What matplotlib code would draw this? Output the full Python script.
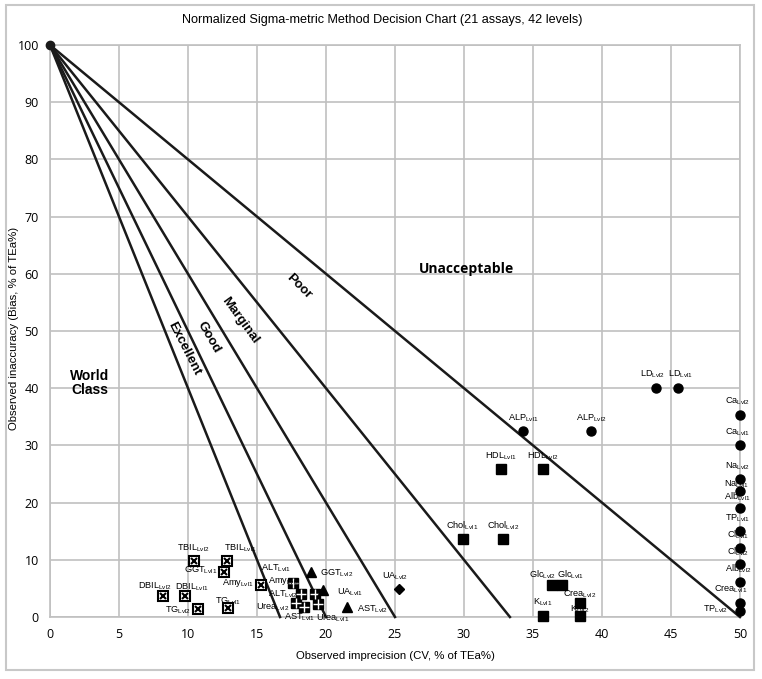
import matplotlib
matplotlib.use('Agg')
import matplotlib.pyplot as plt
from matplotlib.patches import Rectangle

plt.rcParams['font.family'] = ['Liberation Sans', 'DejaVu Sans']
plt.rcParams['mathtext.default'] = 'regular'

# x-intercepts of the decision lines (all start at 0, 100)
line_ends = [16.67, 20, 25, 33.33, 50]

zone_names = ['Excellent', 'Good', 'Marginal', 'Poor']
zone_x = [9.7, 11.5, 13.8, 18.0]
zone_y = [47.0, 48.9, 51.8, 57.7]
zone_rot = [-63, -60, -54, -45]

# crossed squares
cross_names = ['TBIL', 'TBIL', 'GGT', 'DBIL', 'DBIL', 'TG', 'TG', 'Amy']
cross_lvls = [2, 1, 1, 2, 1, 2, 1, 1]
cross_x = [10.4, 12.8, 12.6, 8.2, 9.8, 10.7, 12.9, 15.3]
cross_y = [9.8, 9.8, 7.9, 3.6, 3.6, 1.4, 1.5, 5.6]

# divided squares
grid_names = ['Amy', 'ALT', 'AST', 'Urea', 'AST', 'Urea']
grid_lvls = [2, 2, 2, 2, 1, 1]
grid_x = [17.6, 18.2, 19.2, 17.8, 18.4, 19.4]
grid_y = [5.9, 4.0, 4.0, 2.4, 1.7, 2.3]

tri_names = ['ALT', 'GGT', 'UA']
tri_lvls = [1, 2, 1]
tri_x = [18.9, 19.8, 21.5]
tri_y = [7.9, 4.8, 1.7]

dia_names = ['UA']
dia_lvls = [2]
dia_x = [25.3]
dia_y = [4.9]

sq_names = ['Chol', 'Chol', 'HDL', 'HDL', 'Glc', 'Glc', 'K', 'K', 'Crea']
sq_lvls = [1, 2, 1, 2, 2, 1, 1, 2, 2]
sq_x = [29.9, 32.8, 32.7, 35.7, 36.4, 37.1, 35.7, 38.4, 38.4]
sq_y = [13.6, 13.6, 25.9, 25.9, 5.6, 5.6, 0.2, 0.2, 2.5]

circ_names = ['ALP', 'ALP', 'LD', 'LD', 'Ca', 'Ca', 'Na', 'Na', 'Alb', 'TP',
              'Cl', 'Cl', 'Alb', 'Crea', 'TP']
circ_lvls = [1, 2, 2, 1, 2, 1, 2, 1, 1, 1, 1, 2, 2, 1, 2]
circ_x = [34.3, 39.2, 43.9, 45.5, 50, 50, 50, 50, 50, 50, 50, 50, 50, 50, 50]
circ_y = [32.5, 32.5, 40.0, 40.0, 35.4, 30.0, 24.1, 22.0, 19.1, 15.0,
          12.1, 9.2, 6.2, 2.5, 1.0]

# label offsets in pixels (dx, dy, ha); anything missing sits just above the point
label_pos = {
    ('TBIL', 1): (14, 13, 'center'),
    ('GGT', 1): (-7, 2, 'right'),
    ('DBIL', 2): (-8, 10, 'center'),
    ('DBIL', 1): (7, 9, 'center'),
    ('TG', 2): (-7, -1, 'right'),
    ('TG', 1): (0, 7, 'center'),
    ('Amy', 1): (-7, 2, 'right'),
    ('ALT', 1): (-20, 4, 'right'),
    ('Amy', 2): (-9, 3, 'center'),
    ('GGT', 2): (13, 16, 'center'),
    ('ALT', 2): (-18, 0, 'center'),
    ('UA', 1): (3, 16, 'center'),
    ('Urea', 2): (-23, -4, 'center'),
    ('AST', 1): (-4, -9, 'center'),
    ('Urea', 1): (15, -14, 'center'),
    ('AST', 2): (58, -15, 'center'),
    ('UA', 2): (-4, 13, 'center'),
    ('K', 1): (0, 14, 'center'),
    ('K', 2): (0, 7, 'center'),
    ('Crea', 2): (0, 8, 'center'),
    ('Glc', 2): (-10, 10, 'center'),
    ('Glc', 1): (9, 10, 'center'),
    ('LD', 2): (-3, 14, 'center'),
    ('LD', 1): (3, 14, 'center'),
    ('Na', 1): (-3, 7, 'center'),
    ('Alb', 1): (-3, 11, 'center'),
    ('Crea', 1): (-9, 13, 'center'),
    ('TP', 2): (-12, 2, 'right'),
}


def label_points(ax, names, lvls, xs, ys):
    for n, l, x, y in zip(names, lvls, xs, ys):
        dx, dy, ha = label_pos.get((n, l), (-2 if x == 50 else 0, 13, 'center'))
        ax.annotate(n + '$_{Lvl' + str(l) + '}$', (x, y), xytext=(dx, dy),
                    textcoords='offset pixels', ha=ha, va='center',
                    fontsize=6.6, zorder=6)


fig = plt.figure(figsize=(7.62, 6.79), dpi=100)
ax = fig.add_axes([0.0656, 0.0913, 0.9055, 0.8424])

fig.patches.append(Rectangle((6 / 762, 9 / 679), 748 / 762, 665 / 679,
                             transform=fig.transFigure, fill=False,
                             edgecolor='#c8c8c8', lw=1.5))

ax.set_xlim(0, 50)
ax.set_ylim(0, 100)
ax.set_xticks(range(0, 51, 5))
ax.set_yticks(range(0, 101, 10))
ax.grid(True, color='#c0c0c0', lw=1.2)
ax.set_axisbelow(True)
for s in ax.spines.values():
    s.set_color('#c0c0c0')
    s.set_linewidth(1.2)
ax.tick_params(length=0, labelsize=9, pad=8)
for t in ax.get_xticklabels() + ax.get_yticklabels():
    t.set_family('Open Sans')

for xe in line_ends:
    ax.plot([0, xe], [100, 0], color='#1a1a1a', lw=1.8, zorder=3, clip_on=False)
ax.plot([0], [100], 'o', color='#1a1a1a', ms=6, zorder=4, clip_on=False)

for n, x, y, r in zip(zone_names, zone_x, zone_y, zone_rot):
    ax.text(x, y, n, rotation=r, ha='center', va='center', fontsize=9.5,
            fontweight='bold', rotation_mode='anchor')
ax.text(2.9, 40.9, 'World\nClass', ha='center', va='center', fontsize=10,
        fontweight='bold', linespacing=1.0)
ax.text(30.2, 60.8, 'Unacceptable', ha='center', va='center', fontsize=10,
        fontweight='bold', family='Open Sans')

# markers
ax.plot(cross_x, cross_y, 's', mfc='white', mec='black', mew=1.5, ms=7.5,
        zorder=5, clip_on=False)
ax.plot(cross_x, cross_y, 'x', color='black', mew=1.5, ms=5, zorder=5)
ax.plot(grid_x, grid_y, 's', color='black', ms=6.5, zorder=5)
ax.plot(grid_x, grid_y, '+', color='white', mew=1.0, ms=7, zorder=5)
ax.plot(tri_x, tri_y, '^', color='black', ms=7, zorder=5)
ax.plot(dia_x, dia_y, 'D', color='black', ms=5, zorder=5)
ax.plot(sq_x, sq_y, 's', color='black', ms=6.5, zorder=5, clip_on=False)
ax.plot(circ_x, circ_y, 'o', color='black', ms=6.5, zorder=5, clip_on=False)

label_points(ax, cross_names, cross_lvls, cross_x, cross_y)
label_points(ax, grid_names, grid_lvls, grid_x, grid_y)
label_points(ax, tri_names, tri_lvls, tri_x, tri_y)
label_points(ax, dia_names, dia_lvls, dia_x, dia_y)
label_points(ax, sq_names, sq_lvls, sq_x, sq_y)
label_points(ax, circ_names, circ_lvls, circ_x, circ_y)

fig.text(382 / 762, 1 - 20 / 679,
         'Normalized Sigma-metric Method Decision Chart (21 assays, 42 levels)',
         ha='center', va='center', fontsize=9.1)
ax.set_xlabel('Observed imprecision (CV, % of TEa%)', fontsize=8.2, labelpad=7)
ax.set_ylabel('Observed inaccuracy (Bias, % of TEa%)', fontsize=8.2)
ax.yaxis.set_label_coords(-0.045, 0.505)

fig.savefig('out.png', dpi=100)
